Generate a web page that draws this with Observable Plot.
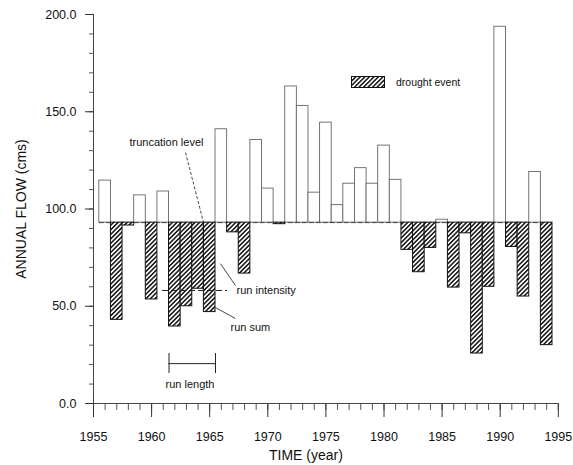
<!DOCTYPE html>
<html><head><meta charset="utf-8">
<script src="https://cdn.jsdelivr.net/npm/d3@7"></script>
<script src="https://cdn.jsdelivr.net/npm/@observablehq/plot@0.6"></script>
<style>
body{margin:0;background:#fff;}
#chart{position:relative;width:573px;height:465px;overflow:hidden;}
#legend{position:absolute;left:351px;top:76px;display:flex;align-items:center;font:10.5px "Liberation Sans",Arial,sans-serif;color:#111;}
#legend svg{margin-right:11px;}
</style></head><body><div id="chart"></div>
<script>
// ---- data ----
const years = [1956,1957,1958,1959,1960,1961,1962,1963,1964,1965,1966,1967,1968,1969,1970,1971,1972,1973,1974,1975,
               1976,1977,1978,1979,1980,1981,1982,1983,1984,1985,1986,1987,1988,1989,1990,1991,1992,1993,1994];
const flows = [114.6,43,91.5,107,53.5,109,39.6,50,59,47,141,88,66.8,135.5,110.5,92.2,163,153,108.4,144.4,
               102,113,121,113,132.6,115,79,67.5,80,94.5,59.6,87.5,25.7,60,193.7,80.5,55,119,30];
const truncation = 93;
const yTicks = [0, 50, 100, 150, 200];
const yMinor = [0,10,20,30,40,50,60,70,80,90,100,110,120,130,140,150,160,170,180,190,200];
const xTicks = [1955, 1960, 1965, 1970, 1975, 1980, 1985, 1990, 1995];
const xMinor = [1955,1956,1957,1958,1959,1960,1961,1962,1963,1964,1965,1966,1967,1968,1969,1970,1971,1972,1973,1974,1975,
                1976,1977,1978,1979,1980,1981,1982,1983,1984,1985,1986,1987,1988,1989,1990,1991,1992,1993,1994,1995];
// annotations (year, flow positions)
const notesMiddle = [{label: "truncation level", year: 1961.28, flow: 134.1}];
const notesStart = [
  {label: "run intensity", year: 1967.31, flow: 58.1},
  {label: "run sum",       year: 1966.79, flow: 39.0},
  {label: "run length",    year: 1961.20, flow: 9.8}
];
const dashedPointers = [{x1: 1962.92, y1: 129.0, x2: 1964.47, y2: 93.0}];
const solidPointers = [
  {x1: 1965.93, y1: 71.9, x2: 1967.22, y2: 60.6},
  {x1: 1965.50, y1: 49.3, x2: 1967.22, y2: 43.7}
];
const intensityLine = [{x1: 1960.94, x2: 1966.53, y: 58.1}];
const runLength = [{x1: 1961.5, x2: 1965.5, y: 20.5, y1: 15.4, y2: 25.7}];

const data = years.map((year, i) => ({year, flow: flows[i], drought: flows[i] < truncation}));
const font = "'Liberation Sans', Arial, Helvetica, sans-serif";

const hatchDefs = () => {
  const ns = "http://www.w3.org/2000/svg";
  const g = document.createElementNS(ns, "defs");
  g.innerHTML = `<pattern id="hatch" patternUnits="userSpaceOnUse" width="3.2" height="3.2" patternTransform="rotate(45)">
      <rect width="3.2" height="3.2" fill="#fff"/><rect width="1.5" height="3.2" fill="#111"/></pattern>`;
  return g;
};

const plot = Plot.plot({
  width: 573, height: 465,
  marginLeft: 93, marginRight: 15.2, marginTop: 14, marginBottom: 62,
  x: {domain: [1955, 1995]},
  y: {domain: [0, 200]},
  style: {fontFamily: font, background: "white", color: "#111"},
  marks: [
    hatchDefs,
    Plot.axisY(yMinor, {tickSize: 4, text: null, stroke: "#555", label: null}),
    Plot.axisY(yTicks, {tickSize: 8, tickPadding: 9, tickFormat: d => d.toFixed(1), fontSize: 12.5, label: null, stroke: "#333"}),
    Plot.axisX(xMinor, {tickSize: 7, text: null, stroke: "#555", label: null}),
    Plot.axisX(xTicks, {tickSize: 14, tickPadding: 15, tickFormat: d => String(d), fontSize: 12.5, label: null, stroke: "#333"}),
    Plot.ruleX([1955], {stroke: "#444", strokeWidth: 1}),
    Plot.ruleY([0], {stroke: "#444", strokeWidth: 1}),
    Plot.rectY(data.filter(d => !d.drought), {x1: d => d.year - 0.5, x2: d => d.year + 0.5, y1: truncation, y2: "flow",
      fill: "white", stroke: "#666", strokeWidth: 0.9}),
    Plot.ruleY([truncation], {x1: years[0] - 0.5, x2: years[years.length - 1] + 0.5, stroke: "#444", strokeWidth: 1, strokeDasharray: "5,2"}),
    Plot.rectY(data.filter(d => d.drought), {x1: d => d.year - 0.5, x2: d => d.year + 0.5, y1: truncation, y2: "flow",
      fill: "url(#hatch)", stroke: "#111", strokeWidth: 1}),
    Plot.ruleY(intensityLine, {x1: "x1", x2: "x2", y: "y", stroke: "#222", strokeWidth: 1, strokeDasharray: "6,3"}),
    Plot.ruleY(runLength, {x1: "x1", x2: "x2", y: "y", stroke: "#222", strokeWidth: 1}),
    Plot.ruleX(runLength, {x: "x1", y1: "y1", y2: "y2", stroke: "#222", strokeWidth: 1}),
    Plot.ruleX(runLength, {x: "x2", y1: "y1", y2: "y2", stroke: "#222", strokeWidth: 1}),
    Plot.link(dashedPointers, {x1: "x1", y1: "y1", x2: "x2", y2: "y2", stroke: "#333", strokeWidth: 0.9, strokeDasharray: "3,2"}),
    Plot.link(solidPointers, {x1: "x1", y1: "y1", x2: "x2", y2: "y2", stroke: "#333", strokeWidth: 0.9}),
    Plot.text(notesMiddle, {x: "year", y: "flow", text: "label", textAnchor: "middle", fontSize: 11, fill: "#111"}),
    Plot.text(notesStart, {x: "year", y: "flow", text: "label", textAnchor: "start", fontSize: 11, fill: "#111"}),
    Plot.text(["ANNUAL FLOW (cms)"], {frameAnchor: "left", textAnchor: "middle", rotate: -90, dx: -72, fontSize: 14, fill: "#111"}),
    Plot.text(["TIME (year)"], {frameAnchor: "bottom", textAnchor: "middle", dy: 56, dx: -20, fontSize: 14, fill: "#111"})
  ]
});
const chart = document.getElementById("chart");
chart.appendChild(plot);

// legend overlay
const legend = document.createElement("div");
legend.id = "legend";
legend.innerHTML = `<svg width="34" height="12"><defs><pattern id="hatch2" patternUnits="userSpaceOnUse" width="3.2" height="3.2" patternTransform="rotate(45)"><rect width="3.2" height="3.2" fill="#fff"/><rect width="1.5" height="3.2" fill="#111"/></pattern></defs><rect x="0.5" y="0.5" width="33" height="11" fill="url(#hatch2)" stroke="#111"/></svg><span>drought event</span>`;
chart.appendChild(legend);
</script></body></html>
